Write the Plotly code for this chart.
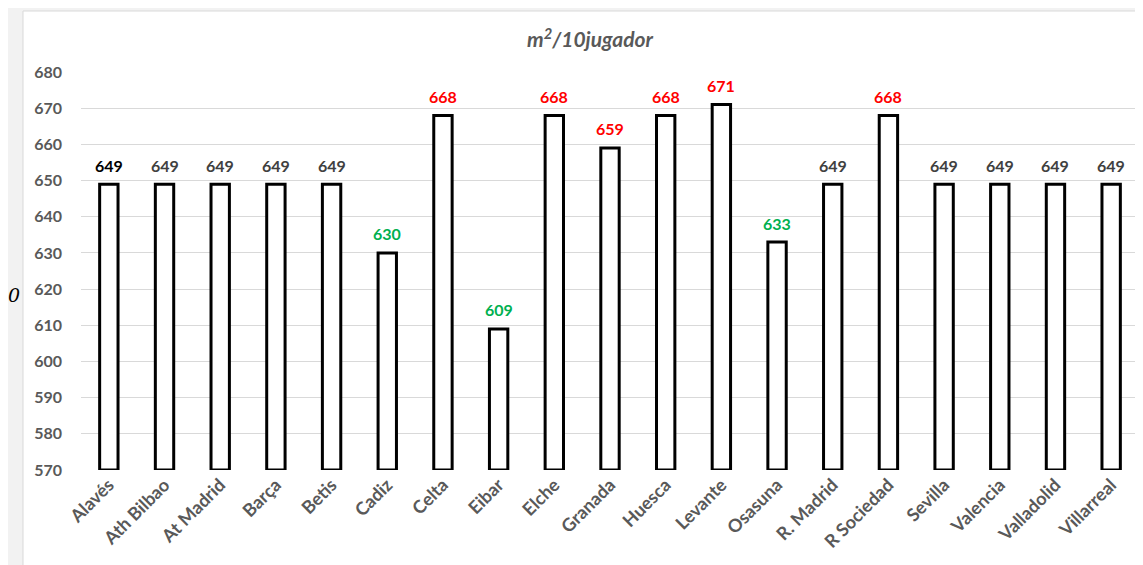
import plotly.graph_objects as go

teams = ["Alavés", "Ath Bilbao", "At Madrid", "Barça", "Betis", "Cadiz", "Celta",
         "Eibar", "Elche", "Granada", "Huesca", "Levante", "Osasuna", "R. Madrid",
         "R Sociedad", "Sevilla", "Valencia", "Valladolid", "Villarreal"]
values = [649, 649, 649, 649, 649, 630, 668, 609, 668, 659, 668, 671, 633, 649,
          668, 649, 649, 649, 649]
label_colors = ["#000000", "#404040", "#404040", "#404040", "#404040", "#00b050",
                "#ff0000", "#00b050", "#ff0000", "#ff0000", "#ff0000", "#ff0000",
                "#00b050", "#404040", "#ff0000", "#404040", "#404040", "#404040",
                "#404040"]
y_min, y_max, y_step = 570, 680, 10
title_text = "<b><i>m<sup>2</sup>/10jugador</i></b>"

# page offset of the plot div (default body margin)
OFF = 8
W, H = 1143 - OFF, 565 - OFF
ml, mr, mt, mb = 81 - OFF, 4, 72 - OFF, 95
pw, ph = W - ml - mr, H - mt - mb

def px_x(x):
    return (x - OFF - ml) / pw

def px_y(y):
    return (H - mb - (y - OFF)) / ph

fig = go.Figure()
fig.add_trace(go.Bar(
    x=teams,
    y=[v - y_min for v in values],
    base=y_min,
    width=0.33,
    marker=dict(color="white", line=dict(color="black", width=3)),
    cliponaxis=False,
    hoverinfo="skip",
))

value_labels = [dict(x=t, y=v, xref="x", yref="y", text="<b>%d</b>" % v,
                     showarrow=False, yanchor="middle", yshift=19,
                     font=dict(family="Lato", size=16, color=c))
                for t, v, c in zip(teams, values, label_colors)]

fig.update_layout(
    width=W, height=H,
    margin=dict(l=ml, r=mr, t=mt, b=mb),
    paper_bgcolor="#f2f2f2",
    plot_bgcolor="white",
    showlegend=False,
    title=dict(text=title_text, x=px_x(590), xref="paper", xanchor="center",
               y=1 - (40 - OFF) / H, yref="container", yanchor="middle",
               font=dict(family="Lato", size=21, color="#595959")),
    font=dict(family="Lato"),
    shapes=[dict(type="rect", xref="paper", yref="paper",
                 x0=px_x(23), x1=px_x(1170), y0=px_y(600), y1=px_y(11),
                 fillcolor="white", line=dict(color="#d9d9d9", width=1),
                 layer="below")],
    annotations=value_labels + [
        dict(text="<i>0</i>", xref="paper", yref="paper",
             x=px_x(22), y=px_y(295), showarrow=False, xanchor="right",
             font=dict(family="DejaVu Serif", size=19, color="black"))],
)
fig.update_xaxes(
    tickangle=-45,
    tickfont=dict(family="Lato", size=18, color="#595959", weight="bold"),
    showgrid=False, showline=False, ticks="",
)
fig.update_yaxes(
    range=[y_min, y_max], dtick=y_step, tick0=y_min,
    showgrid=True, gridcolor="#d9d9d9", gridwidth=1,
    zeroline=False, showline=False, ticks="",
    tickfont=dict(family="Lato", size=16, color="#595959", weight="bold"),
    ticklabelstandoff=18,
)

fig.write_html("out.html")
